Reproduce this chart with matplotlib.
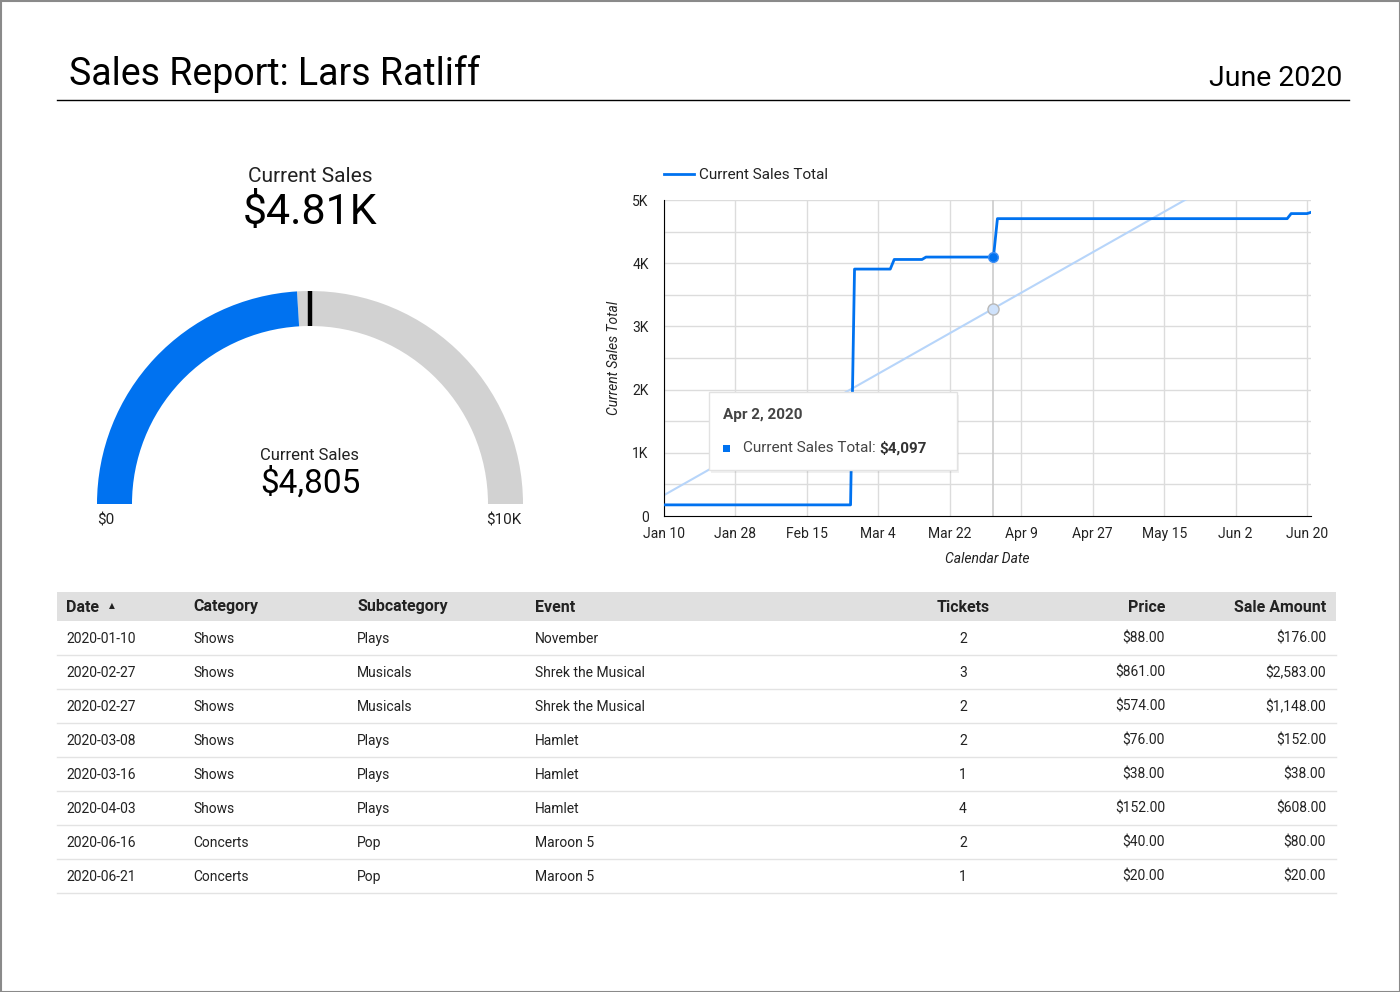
import numpy as np
import pandas as pd
import matplotlib
matplotlib.use('Agg')
import matplotlib.pyplot as plt
from matplotlib.patches import Wedge, Rectangle
from decimal import Decimal, ROUND_HALF_UP

plt.rcParams['font.family'] = ['Roboto', 'DejaVu Sans']

W, H = 1400, 992

# table rows
dates = ['2020-01-10', '2020-02-27', '2020-02-27', '2020-03-08',
         '2020-03-16', '2020-04-03', '2020-06-16', '2020-06-21']
categories = ['Shows', 'Shows', 'Shows', 'Shows', 'Shows', 'Shows', 'Concerts', 'Concerts']
subcategories = ['Plays', 'Musicals', 'Musicals', 'Plays', 'Plays', 'Plays', 'Pop', 'Pop']
events = ['November', 'Shrek the Musical', 'Shrek the Musical', 'Hamlet',
          'Hamlet', 'Hamlet', 'Maroon 5', 'Maroon 5']
tickets = [2, 3, 2, 2, 1, 4, 2, 1]
prices = [88, 861, 574, 76, 38, 152, 40, 20]
sale_amounts = [176, 2583, 1148, 152, 38, 608, 80, 20]

# gauge / scorecard
current_sales = 4805
gauge_max = 10000
gauge_target = 5000

# trendline
trend_dates = ['2020-01-10', '2020-06-21']
trend_values = [330, 6130]

# hovered point
hover_date = '2020-04-02'
hover_value = 4097
hover_trend = 3283

xtick_dates = ['2020-01-10', '2020-01-28', '2020-02-15', '2020-03-04', '2020-03-22',
               '2020-04-09', '2020-04-27', '2020-05-15', '2020-06-02', '2020-06-20']
xtick_labels = ['Jan 10', 'Jan 28', 'Feb 15', 'Mar 4', 'Mar 22',
                'Apr 9', 'Apr 27', 'May 15', 'Jun 2', 'Jun 20']
ytick_values = [0, 1000, 2000, 3000, 4000, 5000]
ytick_labels = ['0', '1K', '2K', '3K', '4K', '5K']

BLUE = '#0072f0'
LIGHT_BLUE = '#b7d5fa'
GREY = '#d2d2d2'


def fx(x):
    return x / W


def fy(y):
    return 1 - y / H


fig = plt.figure(figsize=(14, 9.92), dpi=100)
fig.patch.set_facecolor('white')

# ---- line chart ----
ax = fig.add_axes([fx(664), fy(516), (1311 - 664) / W, (516 - 200) / H], zorder=1)
sales = pd.Series(sale_amounts, index=pd.to_datetime(dates)).groupby(level=0).sum()
days = pd.date_range('2020-01-10', '2020-06-21', freq='D')
cum = sales.reindex(days, fill_value=0).cumsum()

for d in pd.to_datetime(xtick_dates):
    ax.axvline(d, color='#dcdcdc', lw=1, zorder=0)
for v in np.arange(500, 5001, 500):
    ax.axhline(v, color='#dcdcdc', lw=1, zorder=0)
ax.axvline(pd.Timestamp(hover_date), color='#cccccc', lw=1.2, zorder=1)

ax.plot(pd.to_datetime(trend_dates), trend_values, color=LIGHT_BLUE, lw=1.5, zorder=2)
ax.plot(cum.index, cum.values, color=BLUE, lw=2, zorder=3)
ax.plot([pd.Timestamp(hover_date)], [hover_trend], 'o', ms=8, mfc='#cfe2fb', mec='#b8b8b8', mew=1, zorder=4)
ax.plot([pd.Timestamp(hover_date)], [hover_value], 'o', ms=7, mfc=BLUE, mec='#3d8ef5', zorder=4)

ax.set_xlim(pd.Timestamp('2020-01-10'), pd.Timestamp('2020-06-21'))
ax.set_ylim(0, 5000)
ax.set_xticks(pd.to_datetime(xtick_dates))
ax.set_xticklabels(xtick_labels, fontsize=10, color='#222222')
ax.set_yticks(ytick_values)
ax.set_yticklabels(ytick_labels, fontsize=10, color='#222222')
ax.tick_params(length=0, pad=8)
ax.tick_params(axis='y', pad=11)
for s in ['top', 'right']:
    ax.spines[s].set_visible(False)
ax.spines['left'].set_color('black')
ax.spines['bottom'].set_color('black')
ax.set_xlabel('Calendar Date', fontsize=10, style='italic', color='#222222', labelpad=8)
ax.set_ylabel('Current Sales Total', fontsize=10, style='italic', color='#222222', labelpad=8)

# ---- overlay for everything else ----
ov = fig.add_axes([0, 0, 1, 1], zorder=2)
ov.set_xlim(0, W)
ov.set_ylim(0, H)
ov.patch.set_visible(False)
ov.axis('off')

# frame
ov.add_patch(Rectangle((0.5, 0.5), W - 1, H - 1, fill=False, ec='#8a8a8a', lw=1.5))

# title
fig.text(fx(69), fy(74), 'Sales Report: Lars Ratliff', fontsize=27, va='center', ha='left', color='black')
fig.text(fx(1342), fy(78), 'June 2020', fontsize=20.5, va='center', ha='right', color='black')
ov.plot([57, 1349], [H - 100, H - 100], color='black', lw=1)

# scorecard
k_val = Decimal(current_sales) / Decimal(1000)
k_str = str(k_val.quantize(Decimal('0.01'), rounding=ROUND_HALF_UP))
fig.text(fx(310), fy(177), 'Current Sales', fontsize=15, ha='center', va='center', color='#222222')
fig.text(fx(310), fy(213), '$' + k_str + 'K', fontsize=31, ha='center', va='center', color='black')

# gauge
cx, cy, r_out, band = 310, H - 504, 213, 35
frac = current_sales / gauge_max
ang = 180 - 180 * frac
ov.add_patch(Wedge((cx, cy), r_out, 0, ang, width=band, fc=GREY, ec='none'))
ov.add_patch(Wedge((cx, cy), r_out, ang, 180, width=band, fc=BLUE, ec='none'))
ta = np.radians(180 - 180 * gauge_target / gauge_max)
ov.plot([cx + (r_out - band) * np.cos(ta), cx + r_out * np.cos(ta)],
        [cy + (r_out - band) * np.sin(ta), cy + r_out * np.sin(ta)],
        color='black', lw=3.2, solid_capstyle='butt')
fig.text(fx(106), fy(521), '$0', fontsize=11, ha='center', va='center', color='#222222')
fig.text(fx(504), fy(521), '$10K', fontsize=11, ha='center', va='center', color='#222222')
fig.text(fx(310), fy(455), 'Current Sales', fontsize=12, ha='center', va='center', color='#222222')
fig.text(fx(310), fy(483), '${:,}'.format(current_sales), fontsize=24, ha='center', va='center', color='black')

# legend
ov.plot([664, 694], [H - 174, H - 174], color=BLUE, lw=2)
fig.text(fx(699), fy(175), 'Current Sales Total', fontsize=11, ha='left', va='center', color='#222222')

# tooltip
ov.add_patch(Rectangle((711, H - 473), 248, 78, fc='black', alpha=0.06, ec='none'))
ov.add_patch(Rectangle((709, H - 470), 248, 78, fc='white', ec='#e2e2e2', lw=1))
fig.text(fx(723), fy(415), 'Apr 2, 2020', fontsize=11, weight='bold', ha='left', va='center', color='#444444')
ov.add_patch(Rectangle((723, H - 452), 7, 7, fc=BLUE, ec='none'))
t1 = fig.text(fx(743), fy(448), 'Current Sales Total: ', fontsize=11, ha='left', va='center', color='#444444')
fig.canvas.draw()
bb = t1.get_window_extent()
fig.text(bb.x1 / W, fy(448), '${:,}'.format(hover_value), fontsize=11, weight='bold',
         ha='left', va='center', color='#333333')

# table
ov.add_patch(Rectangle((57, H - 621), 1336 - 57, 29, fc='#e0e0e0', ec='none'))
headers = ['Date', 'Category', 'Subcategory', 'Event', 'Tickets', 'Price', 'Sale Amount']
col_x = [66, 193, 357, 535, 963, 1165, 1326]
col_ha = ['left', 'left', 'left', 'left', 'center', 'right', 'right']
for h, x, ha in zip(headers, col_x, col_ha):
    fig.text(fx(x), fy(607), h, fontsize=11.5, weight='bold', ha=ha, va='center', color='#222222')
fig.text(fx(109), fy(606), '▲', fontsize=5.5, ha='left', va='center', color='#222222')

rows = zip(dates, categories, subcategories, events, tickets, prices, sale_amounts)
for i, (d, c, sc, ev, tk, pr, sa) in enumerate(rows):
    yc = 638 + 34 * i
    vals = [d, c, sc, ev, str(tk), '${:,.2f}'.format(pr), '${:,.2f}'.format(sa)]
    for v, x, ha in zip(vals, col_x, col_ha):
        fig.text(fx(x), fy(yc + 1), v, fontsize=10, ha=ha, va='center', color='#222222')
    ov.plot([57, 1336], [H - (yc + 17), H - (yc + 17)], color='#e3e3e3', lw=1)

fig.savefig('out.png', dpi=100)
